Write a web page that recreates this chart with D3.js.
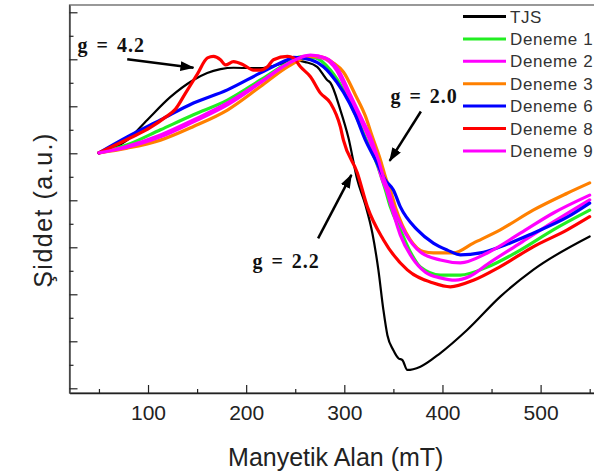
<!DOCTYPE html>
<html>
<head>
<meta charset="utf-8">
<script src="https://cdn.jsdelivr.net/npm/d3@7"></script>
<style>
  body { margin: 0; background: #fff; }
  svg { display: block; }
</style>
</head>
<body>
<svg id="chart" width="594" height="474"></svg>
<script>
// field values (mT) and intensities (a.u.)
var tjsX = [50, 78.8, 99.2, 122.9, 146.3, 160.3, 173.8, 187.1, 214.6, 234.9, 250.2, 260.4, 272.3, 282.5, 285.8, 296, 304.2, 313.3, 321.5, 328.6, 334.7, 339.8, 343.9, 350, 355.1, 359.2, 364.2, 377.5, 397.9, 425.1, 458.9, 492.4, 550];
var tjsY = [5.01, 5.28, 5.71, 6.20, 6.56, 6.71, 6.79, 6.82, 6.81, 6.90, 6.97, 6.94, 6.84, 6.56, 6.50, 5.92, 5.33, 4.43, 3.90, 3.30, 2.52, 1.67, 1.13, 0.81, 0.64, 0.60, 0.39, 0.46, 0.75, 1.24, 1.95, 2.52, 3.23];

var d1X = [50, 78.8, 112.7, 146.3, 180.9, 214.6, 242.1, 255.3, 270.6, 285.8, 299.1, 309.3, 321.5, 331.7, 341.9, 346.9, 357.1, 367.3, 377.5, 397.9, 418.2, 445.7, 479.3, 512.9, 550];
var d1Y = [5.01, 5.18, 5.50, 5.82, 6.13, 6.56, 6.92, 7.05, 7.03, 6.77, 6.35, 5.92, 5.33, 4.86, 4.22, 3.86, 3.37, 2.90, 2.58, 2.41, 2.41, 2.58, 2.94, 3.37, 3.79];

var d2X = [50, 78.8, 112.7, 146.3, 180.9, 214.6, 242.1, 260.4, 277.7, 292, 304.2, 316.4, 324.5, 332.7, 338.8, 342.9, 348, 357.1, 369.4, 382.6, 397.9, 413.1, 428.4, 445.7, 479.3, 513, 550];
var d2Y = [5.01, 5.15, 5.39, 5.71, 6.07, 6.52, 6.90, 7.07, 7.03, 6.77, 6.24, 5.71, 5.35, 4.86, 4.43, 4.22, 3.86, 3.26, 2.77, 2.47, 2.35, 2.30, 2.39, 2.64, 3.09, 3.54, 4.01];

var d3X = [50, 78.8, 112.7, 146.3, 180.9, 214.6, 242.1, 260.4, 273.6, 288.9, 299.1, 311.3, 321.5, 328.6, 336.8, 342.9, 346.9, 352, 367.3, 380.5, 390.7, 411.1, 431.5, 458.9, 492.4, 527.1, 550];
var d3Y = [5.01, 5.11, 5.28, 5.57, 5.92, 6.42, 6.84, 7.03, 7.06, 6.92, 6.73, 6.24, 5.79, 5.35, 4.86, 4.43, 4.22, 3.86, 3.16, 2.91, 2.88, 2.88, 3.09, 3.37, 3.79, 4.15, 4.37];

var d6X = [50, 78.8, 112.7, 146.3, 180.9, 214.6, 242.1, 248.2, 265.5, 278.7, 285.8, 299.1, 311.3, 321.5, 331.7, 341.8, 350, 357.1, 374.4, 390.7, 405, 418.2, 438.6, 458.9, 492.4, 527.1, 550];
var d6Y = [5.01, 5.35, 5.71, 6.07, 6.35, 6.71, 6.99, 7.04, 6.99, 6.84, 6.69, 6.30, 5.81, 5.28, 4.86, 4.43, 4.22, 3.86, 3.37, 3.09, 2.94, 2.84, 2.88, 3.01, 3.30, 3.64, 3.94];

var d8X = [50, 82.2, 102.5, 117.8, 128, 138.2, 150.4, 160.6, 166.7, 173.8, 178.9, 187.1, 197.3, 207.4, 214.6, 221.7, 227.8, 242.1, 248.2, 255.3, 265.5, 275.7, 285.8, 296, 299.1, 313.3, 323.5, 339.8, 364.2, 390.7, 408, 431.5, 458.9, 492.4, 527.1, 550];
var d8Y = [5.01, 5.33, 5.55, 5.77, 5.94, 6.28, 6.69, 7.03, 7.06, 6.99, 6.88, 6.95, 6.88, 6.77, 6.77, 6.84, 6.99, 7.06, 7.03, 6.84, 6.63, 6.28, 6.07, 5.56, 5.28, 4.58, 3.86, 3.16, 2.52, 2.24, 2.16, 2.30, 2.59, 3.01, 3.37, 3.65];

var d9X = [50, 78.8, 112.7, 146.3, 180.9, 214.6, 242.1, 265.5, 280.8, 294, 306.2, 318.4, 326.6, 334.7, 340.8, 344.9, 350, 362.2, 377.5, 397.9, 418.2, 445.7, 479.3, 513, 550];
var d9Y = [5.01, 5.13, 5.35, 5.67, 6.03, 6.50, 6.90, 7.09, 7.03, 6.77, 6.24, 5.71, 5.35, 4.86, 4.43, 4.22, 3.86, 3.30, 2.90, 2.73, 2.67, 2.88, 3.30, 3.73, 4.11];

var seriesNames = ['TJS', 'Deneme 1', 'Deneme 2', 'Deneme 3', 'Deneme 6', 'Deneme 8', 'Deneme 9'];
var seriesColors = ['#000000', '#22ee22', '#ff00ff', '#ff8000', '#0000ff', '#ff0000', '#ff00ff'];
var seriesX = [tjsX, d1X, d2X, d3X, d6X, d8X, d9X];
var seriesY = [tjsY, d1Y, d2Y, d3Y, d6Y, d8Y, d9Y];

var xTicks = [50, 100, 150, 200, 250, 300, 350, 400, 450, 500, 550];
var yTicks = [0, 0.5, 1, 1.5, 2, 2.5, 3, 3.5, 4, 4.5, 5, 5.5, 6, 6.5, 7, 7.5, 8];

// annotations: label, text position, arrow start, arrow tip (data units)
var notes = [
  {label: 'g = 4.2', tx: 28.2, ty: 7.16, x1: 78.8, y1: 7.0, x2: 146.3, y2: 6.82},
  {label: 'g = 2.0', tx: 347, ty: 6.07, x1: 378, y1: 5.89, x2: 346.2, y2: 4.84},
  {label: 'g = 2.2', tx: 206.4, ty: 2.56, x1: 273.3, y1: 3.19, x2: 307.2, y2: 4.54}
];

var margin = {top: 5, left: 69.5, bottom: 393, right: 599.5};

var x = d3.scaleLinear().domain([20, 560]).range([margin.left, margin.right]);
var y = d3.scaleLinear().domain([-0.1, 8.155]).range([margin.bottom, margin.top]);

var svg = d3.select('#chart');

// frame
svg.append('rect')
   .attr('x', margin.left)
   .attr('y', margin.top)
   .attr('width', margin.right - margin.left)
   .attr('height', margin.bottom - margin.top)
   .attr('fill', 'none')
   .attr('stroke', '#555')
   .attr('stroke-width', 1.2);

var xAxis = svg.append('g')
   .attr('transform', 'translate(0,' + margin.bottom + ')')
   .call(d3.axisBottom(x).tickValues(xTicks).tickSize(-8).tickSizeOuter(0).tickPadding(12)
          .tickFormat(d => d % 100 === 0 ? d : ''));
xAxis.select('.domain').attr('stroke', '#222').attr('stroke-width', 1.5);
xAxis.selectAll('.tick line')
   .attr('stroke', '#222').attr('stroke-width', 1.2)
   .attr('y2', d => d % 100 === 0 ? -8 : -4);
xAxis.selectAll('.tick text')
   .attr('font-family', 'Liberation Sans, Arial, sans-serif')
   .attr('font-size', 21)
   .attr('fill', '#222');

var yAxis = svg.append('g')
   .attr('transform', 'translate(' + margin.left + ',0)')
   .call(d3.axisLeft(y).tickValues(yTicks).tickSize(-8).tickSizeOuter(0).tickFormat(''));
yAxis.select('.domain').attr('stroke', '#444').attr('stroke-width', 1.5);
yAxis.selectAll('.tick line')
   .attr('stroke', '#222').attr('stroke-width', 1.2)
   .attr('x2', d => d % 1 === 0 ? 8 : 4);

// axis titles
svg.append('text')
   .attr('x', (margin.left + 594) / 2 + 4)
   .attr('y', 466)
   .attr('text-anchor', 'middle')
   .attr('font-family', 'Liberation Sans, Arial, sans-serif')
   .attr('font-size', 25)
   .attr('fill', '#222')
   .text('Manyetik Alan (mT)');

svg.append('text')
   .attr('transform', 'translate(52,210) rotate(-90)')
   .attr('text-anchor', 'middle')
   .attr('font-family', 'Liberation Sans, Arial, sans-serif')
   .attr('font-size', 25)
   .attr('letter-spacing', 1.5)
   .attr('fill', '#222')
   .text('Şiddet (a.u.)');

// curves
var line = d3.line()
   .x(d => x(d[0]))
   .y(d => y(d[1]))
   .curve(d3.curveMonotoneX);

seriesNames.forEach((name, i) => {
  var pts = seriesX[i].map((v, j) => [v, seriesY[i][j]]);
  svg.append('path')
     .datum(pts)
     .attr('fill', 'none')
     .attr('stroke', seriesColors[i])
     .attr('stroke-width', i === 0 ? 2.2 : 3.2)
     .attr('stroke-linejoin', 'round')
     .attr('stroke-linecap', 'round')
     .attr('d', line);
});

// legend
var legend = svg.append('g');
seriesNames.forEach((name, i) => {
  var ly = 16.5 + i * 22.4;
  legend.append('line')
        .attr('x1', 463).attr('x2', 506)
        .attr('y1', ly).attr('y2', ly)
        .attr('stroke', seriesColors[i])
        .attr('stroke-width', 3);
  legend.append('text')
        .attr('x', 510)
        .attr('y', ly)
        .attr('dy', '0.36em')
        .attr('font-family', 'Liberation Sans, Arial, sans-serif')
        .attr('font-size', 17)
        .attr('letter-spacing', 0.6)
        .attr('fill', '#333')
        .text(name);
});

// annotations
svg.append('defs').append('marker')
   .attr('id', 'head')
   .attr('markerUnits', 'userSpaceOnUse')
   .attr('viewBox', '0 0 14 10')
   .attr('refX', 13)
   .attr('refY', 5)
   .attr('markerWidth', 14)
   .attr('markerHeight', 10)
   .attr('orient', 'auto')
   .append('path')
   .attr('d', 'M0,0 L14,5 L0,10 Z')
   .attr('fill', '#000');

notes.forEach(n => {
  svg.append('line')
     .attr('x1', x(n.x1)).attr('y1', y(n.y1))
     .attr('x2', x(n.x2)).attr('y2', y(n.y2))
     .attr('stroke', '#000')
     .attr('stroke-width', 2.5)
     .attr('marker-end', 'url(#head)');
  svg.append('text')
     .attr('x', x(n.tx))
     .attr('y', y(n.ty))
     .attr('font-family', 'Liberation Serif, Times New Roman, serif')
     .attr('font-weight', 'bold')
     .attr('font-size', 20)
     .attr('letter-spacing', 1)
     .attr('word-spacing', 2)
     .attr('fill', '#111')
     .text(n.label);
});
</script>
</body>
</html>
